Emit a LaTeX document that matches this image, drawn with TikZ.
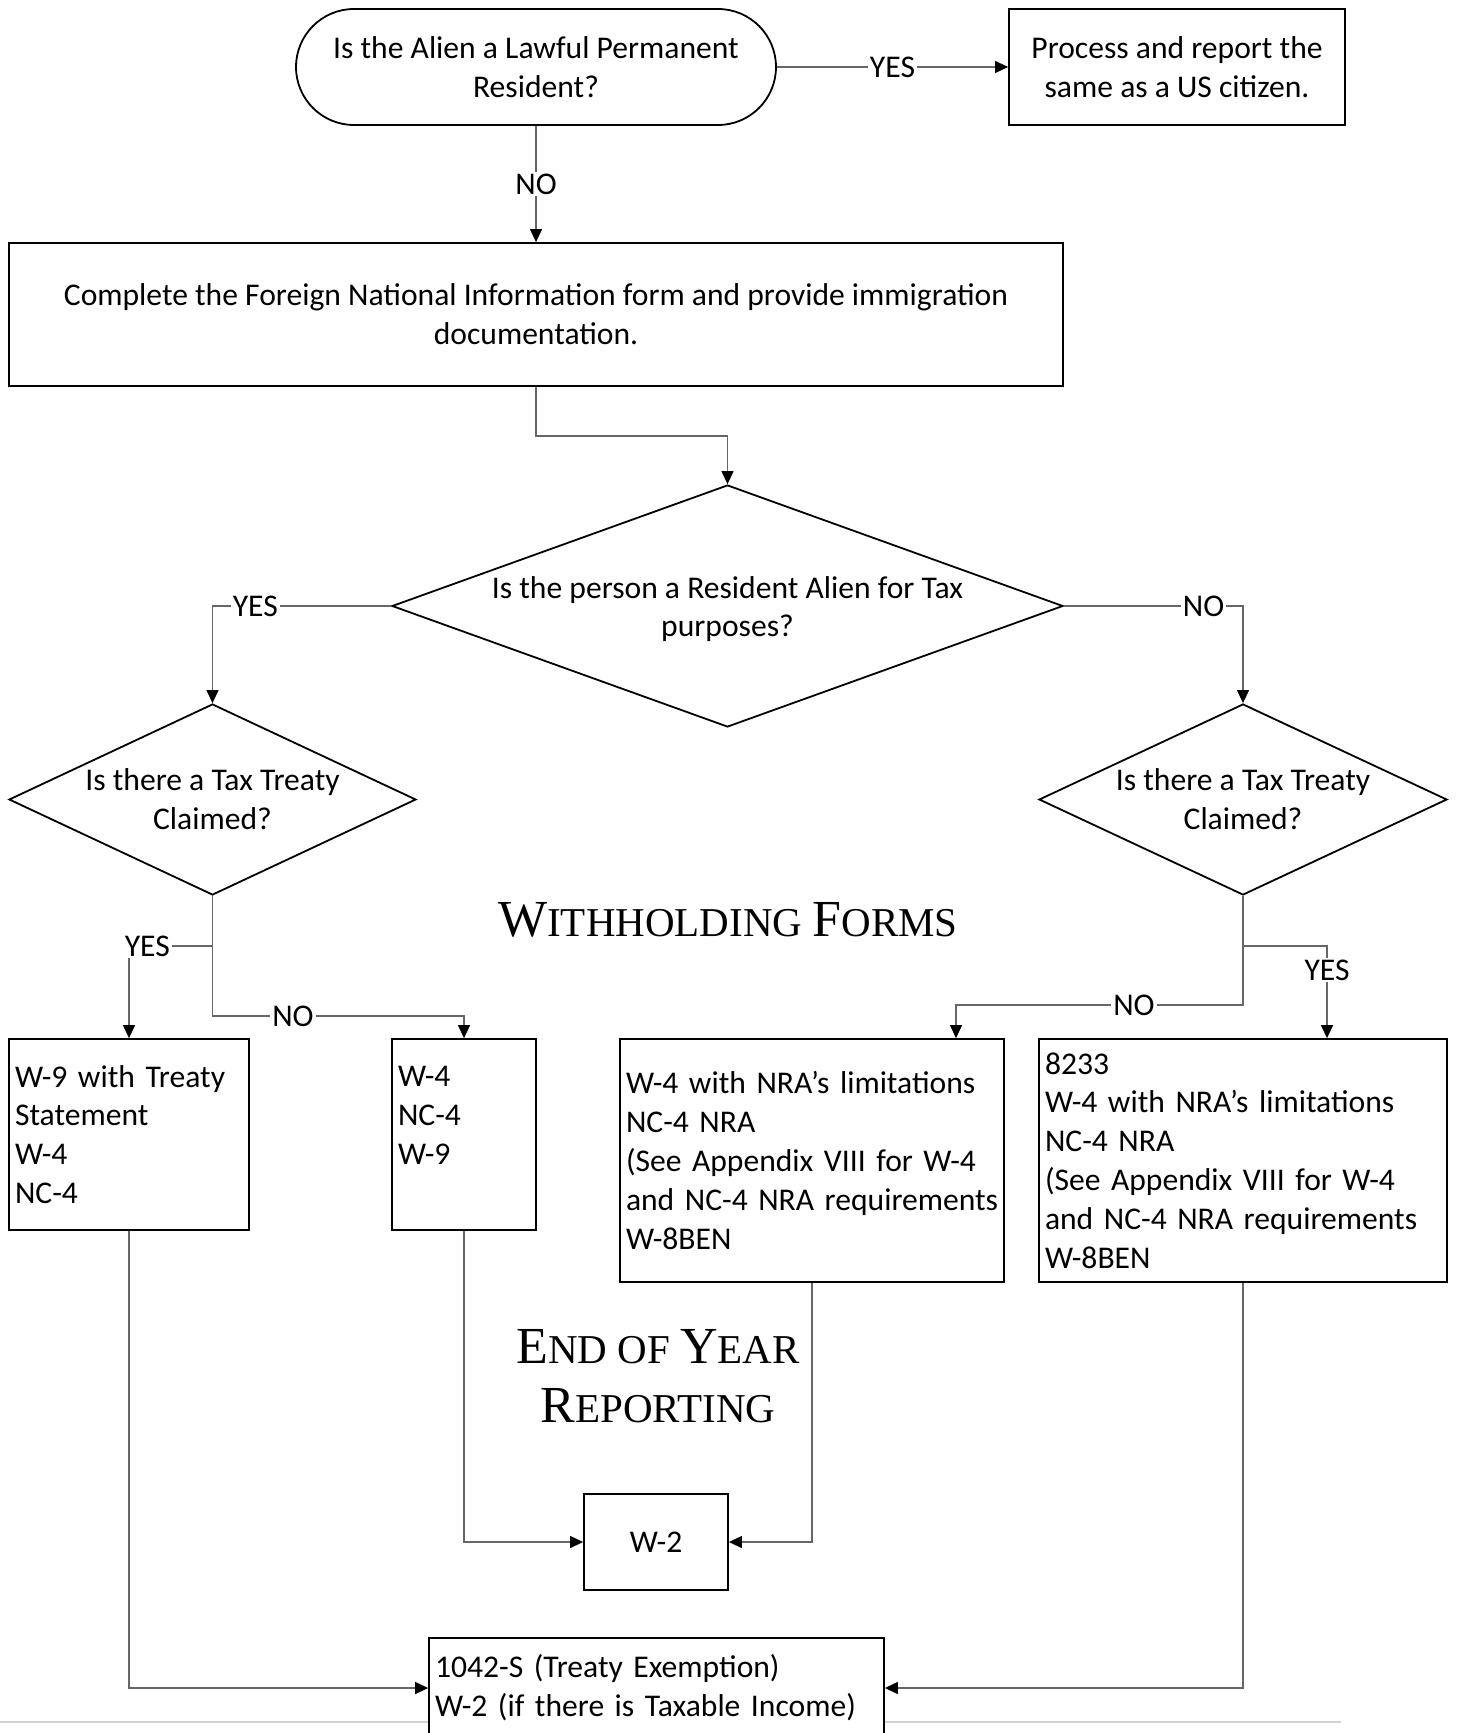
\documentclass[tikz,border=0pt]{standalone}
\usepackage{fontspec}
\newfontfamily\bodyfont{Carlito}
\newfontfamily\titlefont{Liberation Serif}
\newcommand{\flowfont}{\bodyfont\fontsize{15.8}{19.4}\selectfont}
\newcommand{\initcap}[1]{{\fontsize{26}{29.5}\selectfont #1}}
\usetikzlibrary{shapes.geometric, shapes.misc, arrows.meta}

\begin{document}
\begin{tikzpicture}[x=0.5pt, y=-0.5pt]
	\tikzset{
		base/.style = {draw, line width=0.9pt, fill=white, font=\flowfont, inner sep=0pt},
		terminal/.style = {base, rounded rectangle, align=center},
		block/.style = {base, rectangle, align=center},
		decision/.style = {base, diamond},
		forms/.style = {base, rectangle, align=left, inner xsep=3pt},
		heading/.style = {font=\titlefont\fontsize{20.5}{29.5}\selectfont, align=center},
		flow/.style = {line width=0.6pt, black!60, -{Triangle[length=6.5pt, width=6pt, color=black]}},
		tag/.style = {fill=white, inner sep=1pt, font=\flowfont, text=black}
	}
	\useasboundingbox (0, 0) rectangle (1459, 1733);
	\clip (0, 0) rectangle (1459, 1733);
	\draw[gray!35, line width=0.8pt] (0, 1722) -- (1341, 1722);

	\node[terminal, minimum width=240pt, minimum height=58pt] (lpr) at (536, 67)
		{Is the Alien a Lawful Permanent\\Resident?};
	\node[block, minimum width=168pt, minimum height=58pt] (citizen) at (1177, 67)
		{Process and report the\\same as a US citizen.};
	\node[block, minimum width=527pt, minimum height=71.5pt] (fni) at (536, 314.5)
		{Complete the Foreign National Information form and provide immigration\\documentation.};
	\node[decision, minimum width=335.5pt, minimum height=121pt,
		label={[align=center, font=\flowfont, yshift=-1.5pt]center:Is the person a Resident Alien for Tax\\purposes?}] (rat) at (727.5, 606) {};
	\node[decision, minimum width=203.5pt, minimum height=95.5pt,
		label={[align=center, font=\flowfont]center:Is there a Tax Treaty\\Claimed?}] (ltt) at (212.5, 799.5) {};
	\node[decision, minimum width=204pt, minimum height=95.5pt,
		label={[align=center, font=\flowfont]center:Is there a Tax Treaty\\Claimed?}] (rtt) at (1243, 799.5) {};

	\node[heading] (wf) at (728, 920) {\initcap{W}ITHHOLDING \initcap{F}ORMS};

	\node[forms, text width=114pt, minimum height=95.5pt] (rtreaty) at (129, 1134.5)
		{W-9 with Treaty\\Statement\\W-4\\NC-4};
	\node[forms, text width=66pt, minimum height=95.5pt] (rnotreaty) at (464, 1134.5)
		{W-4\\NC-4\\W-9\\\mbox{}};
	\node[forms, text width=186pt, minimum height=121.5pt] (nranotreaty) at (812, 1160.5)
		{W-4 with NRA’s limitations\\NC-4 NRA\\(See Appendix VIII for W-4\\\mbox{and NC-4 NRA requirements}\\W-8BEN};
	\node[forms, text width=198pt, minimum height=121.5pt] (nratreaty) at (1243, 1160.5)
		{8233\\W-4 with NRA’s limitations\\NC-4 NRA\\(See Appendix VIII for W-4\\\mbox{and NC-4 NRA requirements}\\W-8BEN};

	\node[heading] (eoy) at (658, 1376) {\initcap{E}ND OF \initcap{Y}EAR\\\initcap{R}EPORTING};

	\node[block, minimum width=72pt, minimum height=48pt] (wtwo) at (656, 1542) {W-2};
	\node[forms, text width=221.5pt, minimum height=50pt] (ftwo) at (656.5, 1688)
		{1042-S (Treaty Exemption)\\W-2 (if there is Taxable Income)};

	\draw[flow] (lpr.east) -- node[tag] (yes0) {YES} (citizen.west);
	\draw[flow] (lpr.south) -- node[tag] (no0) {NO} (fni.north);
	\draw[flow] (fni.south) -- ++(0, 49) -| (rat.north);
	\draw[flow] (rat.west) -| node[tag, pos=0.38] (yes1) {YES} (ltt.north);
	\draw[flow] (rat.east) -| node[tag, pos=0.39] (no1) {NO} (rtt.north);
	\draw[flow] (ltt.south) -- ++(0, 50) -| node[tag, pos=0.39] (yes2) {YES} (rtreaty.north);
	\draw[flow] (ltt.south) -- ++(0, 120) -| node[tag, pos=0.16] (no2) {NO} (rnotreaty.north);
	\draw[flow] (rtt.south) -- ++(0, 109) -| node[tag, pos=0.19] (no3) {NO} ([xshift=72pt]nranotreaty.north);
	\draw[flow] (rtt.south) -- ++(0, 50) -| node[tag, pos=0.63] (yes3) {YES} ([xshift=42pt]nratreaty.north);
	\draw[flow] (rnotreaty.south) |- (wtwo.west);
	\draw[flow] (nranotreaty.south) |- (wtwo.east);
	\draw[flow] (rtreaty.south) |- (ftwo.west);
	\draw[flow] (nratreaty.south) |- (ftwo.east);
\end{tikzpicture}
\end{document}
